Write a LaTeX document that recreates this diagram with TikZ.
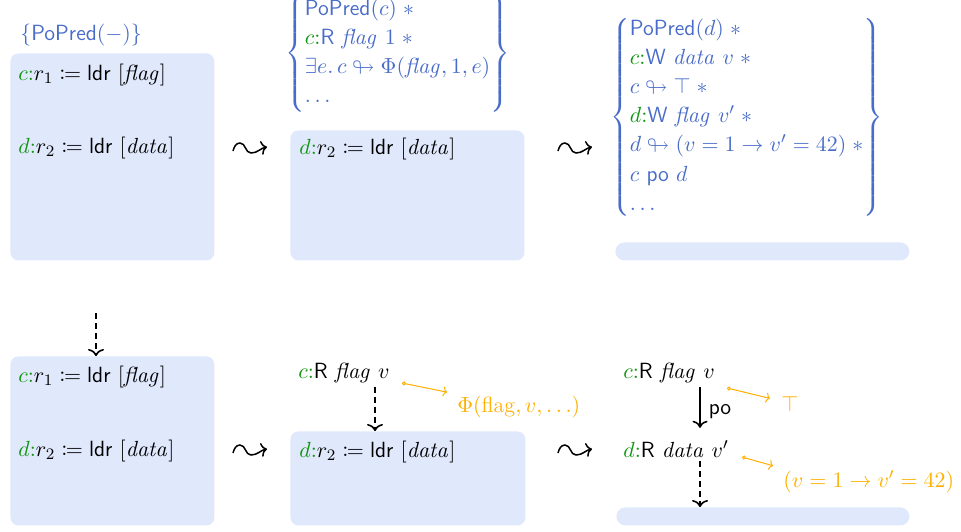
\documentclass[tikz,border=0pt]{standalone}
\usepackage{amsmath,amssymb,mathtools}
\usetikzlibrary{arrows.meta,calc}
\definecolor{pblue}{RGB}{72,108,200}
\definecolor{tgreen}{RGB}{16,150,16}
\definecolor{orng}{RGB}{255,175,0}
\definecolor{boxfill}{RGB}{224,232,252}
\newcommand{\tid}[1]{\textcolor{tgreen}{#1{:}}}
\begin{document}
\begin{tikzpicture}[x=0.5pt,y=-0.5pt,
  font=\fontsize{11}{13.6}\selectfont,
  bx/.style={fill=boxfill, draw=none, rounded corners=4pt, inner sep=0pt, anchor=north west},
  txt/.style={anchor=base west, inner sep=0pt},
  sq/.style={inner sep=0pt, minimum size=0pt},
  squig/.style={line width=0.75pt, -{To[length=3pt,width=7pt]}},
  setnode/.style={anchor=west, inner sep=0pt, text=pblue},
  dasharr/.style={dash pattern=on 3pt off 2pt, line width=0.8pt, -{To[length=3.5pt,width=8pt]}},
  poarr/.style={line width=0.8pt, -{To[length=3.5pt,width=7.5pt]}},
  orarr/.style={draw=orng, line width=0.5pt, {Circle[open,length=2pt,width=2pt]}-{To[length=2pt,width=5pt]}}]
\useasboundingbox (0,0) rectangle (961,531);

% boxes
\node[bx, minimum width=102pt, minimum height=103.5pt] (b1) at (10,53) {};
\node[bx, minimum width=117pt, minimum height=65pt] (b2) at (290,130) {};
\node[bx, minimum width=147pt, minimum height=9pt, rounded corners=4.5pt] (b3) at (615,242) {};
\node[bx, minimum width=102pt, minimum height=84.5pt] (b4) at (10,356) {};
\node[bx, minimum width=117.5pt, minimum height=47pt] (b5) at (290,431) {};
\node[bx, minimum width=146.5pt, minimum height=9pt, rounded corners=4.5pt] (b6) at (616,507) {};

% top row
\node[txt, text=pblue] (pp) at (20,40) {$\{\textsf{PoPred}(-)\}$};
\node[txt] (t1a) at (18,80) {$\tid{c}r_1 \coloneqq \textsf{ldr}\ [\mathit{flag}]$};
\node[txt] (t1b) at (18,153) {$\tid{d}r_2 \coloneqq \textsf{ldr}\ [\mathit{data}]$};
\node[txt] (t2) at (299,154) {$\tid{d}r_2 \coloneqq \textsf{ldr}\ [\mathit{data}]$};

\node[setnode] (s2) at (285,53) {$\def\arraystretch{1.07}\left\{\begin{array}{@{}l@{}}
  \textsf{PoPred}(c)\;\ast\\
  \tid{c}\textsf{R}\ \mathit{flag}\ 1\;\ast\\
  \exists e.\, c \looparrowright \Phi(\mathit{flag}, 1, e)\\
  \ldots
\end{array}\right\}$};

\node[setnode] (s3) at (610,117) {$\def\arraystretch{1.07}\left\{\begin{array}{@{}l@{}}
  \textsf{PoPred}(d)\;\ast\\
  \tid{c}\textsf{W}\ \mathit{data}\ v\;\ast\\
  c \looparrowright \top\;\ast\\
  \tid{d}\textsf{W}\ \mathit{flag}\ v'\;\ast\\
  d \looparrowright (v = 1 \rightarrow v' = 42)\;\ast\\
  c\ \textsf{po}\ d\\
  \ldots
\end{array}\right\}\hspace{4pt}$};

% bottom row
\node[txt] (t4a) at (18,382) {$\tid{c}r_1 \coloneqq \textsf{ldr}\ [\mathit{flag}]$};
\node[txt] (t4b) at (18,456) {$\tid{d}r_2 \coloneqq \textsf{ldr}\ [\mathit{data}]$};
\node[txt] (t5a) at (298,378) {$\tid{c}\textsf{R}\ \mathit{flag}\ v$};
\node[txt] (t5b) at (299,457) {$\tid{d}r_2 \coloneqq \textsf{ldr}\ [\mathit{data}]$};
\node[txt, text=orng] (o5) at (457,412) {$\Phi(\text{flag}, v, \ldots)$};
\node[txt] (t6a) at (623,378) {$\tid{c}\textsf{R}\ \mathit{flag}\ v$};
\node[txt] (t6b) at (623,457) {$\tid{d}\textsf{R}\ \mathit{data}\ v'$};
\node[txt, text=orng] (o6a) at (781,411) {$\top$};
\node[txt, text=orng] (o6b) at (783,487) {$(v = 1 \rightarrow v' = 42)$};

% squiggle arrows
\foreach \n/\px/\py in {q1/250/148, q2/575/148, q3/250/450, q4/575/450}{
  \coordinate (\n) at (\px,\py);
  \draw[squig] ($(\n)+(-17,3)$) to[out=75,in=180] ($(\n)+(-10,-5)$)
     to[out=0,in=180] ($(\n)+(1,5)$) to[out=0,in=190] ($(\n)+(17,-1)$);
}

% connectors
\coordinate (d4s) at (96,313);
\draw[dasharr] (d4s) -- (d4s |- b4.north);
\coordinate (x5) at (375,0);
\draw[dasharr, shorten <=2pt] (x5 |- t5a.south) -- (x5 |- b5.north);
\coordinate (x6) at (700,0);
\draw[poarr, shorten <=2pt, shorten >=6pt] (x6 |- t6a.south) -- node[right, inner sep=4pt]{\textsf{po}} (x6 |- t6b.north);
\draw[dasharr, shorten <=2pt] (x6 |- t6b.south) -- (x6 |- b6.north);

\coordinate (c5) at (402,383);
\draw[orarr] (c5) -- ($(o5.north west)+(-10,-3)$);
\coordinate (c6a) at (727,388);
\draw[orarr] (c6a) -- ($(o6a.north west)+(-11,3)$);
\coordinate (c6b) at (742,457);
\draw[orarr] (c6b) -- ($(o6b.north west)+(-10,-4)$);
\end{tikzpicture}
\end{document}
